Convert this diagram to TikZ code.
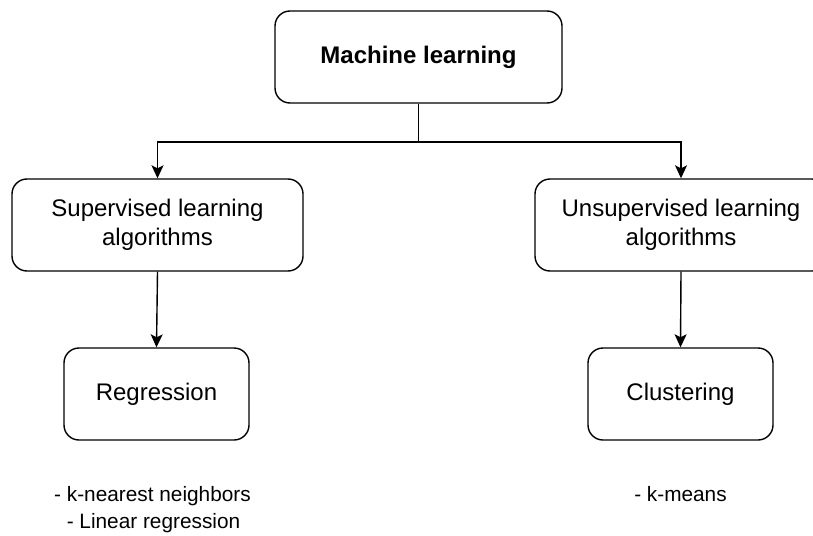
\documentclass[tikz,border=0pt]{standalone}
\usepackage{fontspec}
\setmainfont{Liberation Sans}
\usetikzlibrary{arrows.meta}
\begin{document}
\begin{tikzpicture}[x=1pt,y=-1pt,
  txt/.style={font=\fontsize{24}{29}\selectfont},
  box/.style={draw, line width=1.4pt, rounded corners=15pt, align=center, inner sep=0pt, txt},
  conn/.style={line width=1.4pt},
  arr/.style={conn, -{Stealth[length=13pt,width=12pt,inset=3pt]}},
  lbl/.style={inner sep=0pt, anchor=base, font=\fontsize{20.8}{28}\selectfont}]
\useasboundingbox (0,0) rectangle (813,535);
\clip (0,0) rectangle (813,535);
\node[box, minimum width=287pt, minimum height=92pt, font=\bfseries\fontsize{24}{29}\selectfont] (ml) at (418.5,57) {Machine learning};
\node[box, minimum width=291pt, minimum height=92pt] (sup) at (157.5,225) {Supervised learning\\algorithms};
\node[box, minimum width=292pt, minimum height=92pt] (uns) at (681,225) {Unsupervised learning\\algorithms};
\node[box, minimum width=185pt, minimum height=92pt] (reg) at (156.5,394) {Regression};
\node[box, minimum width=185pt, minimum height=92pt] (clu) at (680.5,394) {Clustering};
\coordinate (j) at (418.5,142);
\draw[conn] (ml.south) -- (j);
\draw[arr] (j) -| (sup.north);
\draw[arr] (j) -| (uns.north);
\draw[arr] (sup.south) -- (reg.north);
\draw[arr] (uns.south) -- (clu.north);
\node[lbl] (knn) at (152.5,501) {- k-nearest neighbors};
\node[lbl] (lin) at (153.5,528.5) {- Linear regression};
\node[lbl] (km) at (680.5,501) {- k-means};
\end{tikzpicture}
\end{document}
